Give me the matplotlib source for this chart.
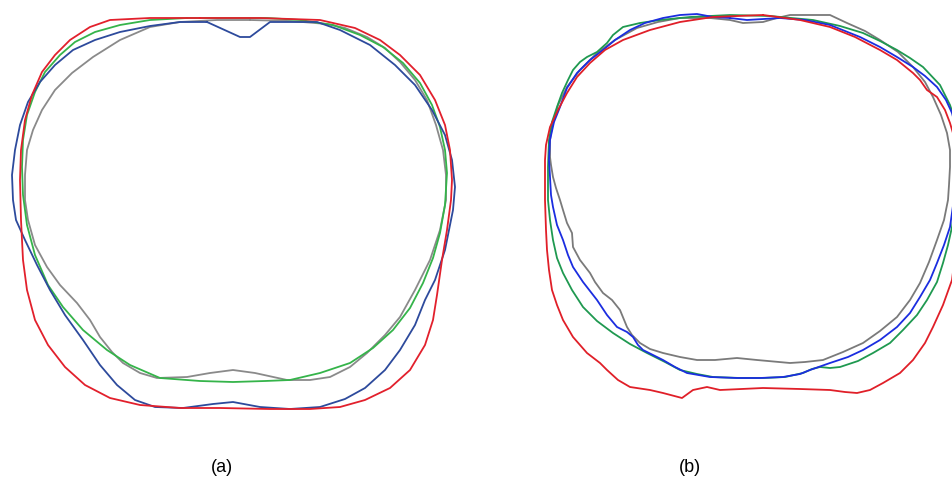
import matplotlib
matplotlib.use("Agg")
import matplotlib.pyplot as plt

# contour points, image pixel coords (x, y), y downwards
# ---- panel (a)
a_gray = [(250, 20), (217, 20), (180, 22), (150, 27), (120, 40), (93, 57), (72, 73),
          (55, 90), (42, 110), (33, 130), (27, 150), (25, 175), (25, 200), (28, 220),
          (35, 245), (47, 267), (60, 285), (77, 303), (90, 320), (100, 337), (112, 352),
          (123, 363), (140, 373), (157, 378), (187, 377), (210, 373), (233, 370),
          (255, 373), (287, 380), (310, 380), (330, 377), (350, 367), (367, 353),
          (385, 335), (400, 317), (415, 290), (430, 260), (440, 230), (446, 200),
          (446, 175), (443, 150), (436, 125), (427, 100), (415, 80), (400, 62),
          (385, 48), (367, 37), (345, 28), (327, 24), (290, 21), (250, 20)]
a_green = [(187, 18), (150, 20), (120, 25), (95, 32), (75, 42), (60, 55), (45, 72),
           (35, 92), (27, 115), (23, 140), (22, 167), (23, 195), (27, 225), (35, 255),
           (48, 285), (63, 307), (83, 330), (107, 350), (130, 365), (160, 378),
           (200, 381), (233, 382), (265, 381), (290, 380), (320, 373), (350, 363),
           (373, 348), (393, 330), (410, 308), (423, 283), (433, 258), (440, 233),
           (445, 205), (447, 173), (445, 150), (440, 127), (432, 105), (420, 83),
           (403, 63), (383, 47), (360, 35), (333, 25), (300, 20), (267, 18), (187, 18)]
a_blue = [(207, 22), (180, 22), (150, 26), (120, 32), (95, 40), (73, 50), (55, 65),
          (40, 82), (28, 102), (20, 125), (15, 150), (12, 175), (13, 200), (16, 220),
          (25, 240), (37, 265), (50, 290), (65, 315), (83, 340), (100, 365),
          (117, 385), (135, 400), (155, 407), (183, 408), (213, 404), (233, 402),
          (260, 407), (290, 409), (320, 407), (345, 399), (365, 388), (385, 370),
          (400, 350), (415, 325), (425, 300), (435, 280), (440, 265), (445, 250),
          (450, 225), (453, 210), (455, 187), (452, 160), (445, 135), (432, 110),
          (415, 85), (395, 65), (370, 45), (340, 30), (317, 22), (270, 22),
          (250, 37), (240, 37), (207, 22)]
a_red = [(200, 18), (150, 18), (110, 20), (90, 27), (70, 40), (55, 55), (42, 72),
         (32, 95), (25, 120), (21, 150), (20, 180), (21, 220), (23, 260), (27, 290),
         (35, 320), (48, 345), (65, 367), (85, 385), (110, 398), (140, 405),
         (180, 408), (220, 408), (270, 409), (310, 409), (340, 407), (365, 400),
         (390, 388), (410, 370), (425, 345), (433, 320), (437, 295), (442, 260),
         (447, 230), (451, 200), (452, 180), (450, 150), (445, 125), (435, 100),
         (420, 75), (400, 55), (380, 40), (355, 28), (320, 20), (260, 18), (200, 18)]
# ---- panel (b)
b_gray = [(680, 18), (710, 18), (730, 20), (743, 23), (763, 22), (777, 18), (790, 15),
          (830, 15), (847, 23), (865, 31), (880, 40), (898, 52), (913, 67), (925, 82),
          (933, 97), (941, 115), (947, 133), (950, 150), (950, 167), (949, 185),
          (948, 200), (944, 220), (937, 240), (929, 262), (920, 283), (910, 300),
          (897, 317), (880, 331), (863, 343), (843, 352), (823, 360), (805, 362),
          (790, 363), (757, 360), (737, 358), (715, 360), (697, 360), (680, 357),
          (663, 353), (650, 349), (640, 343), (632, 335), (627, 327), (620, 310),
          (612, 300), (603, 293), (595, 282), (590, 273), (580, 260), (573, 247),
          (572, 233), (567, 223), (563, 210), (560, 200), (556, 188), (553, 177),
          (551, 165), (550, 157), (550, 140), (552, 127), (558, 105), (567, 87),
          (580, 70), (597, 53), (615, 40), (637, 28), (658, 22), (680, 18)]
b_green = [(770, 16), (730, 15), (690, 17), (660, 20), (640, 23), (623, 27), (613, 35),
           (607, 43), (597, 52), (587, 57), (580, 62), (573, 70), (568, 80), (562, 93),
           (557, 107), (552, 122), (549, 140), (548, 167), (548, 200), (550, 220),
           (553, 240), (557, 258), (563, 273), (572, 290), (583, 307), (597, 321),
           (613, 333), (630, 344), (647, 353), (665, 362), (680, 370), (697, 374),
           (713, 377), (740, 378), (763, 378), (785, 377), (803, 373), (812, 369),
           (820, 367), (830, 368), (840, 367), (858, 361), (873, 353), (890, 343),
           (903, 330), (917, 315), (927, 300), (937, 282), (943, 263), (948, 245),
           (952, 227), (960, 170), (955, 120), (950, 105), (940, 85), (923, 67),
           (910, 58), (897, 50), (880, 41), (863, 33), (840, 26), (813, 20), (770, 16)]
b_blue = [(730, 18), (713, 17), (697, 14), (680, 15), (663, 18), (645, 23), (630, 30),
          (615, 40), (603, 50), (590, 60), (577, 73), (567, 88), (560, 107),
          (554, 122), (550, 140), (549, 160), (550, 177), (551, 195), (553, 207),
          (557, 225), (563, 240), (568, 255), (573, 267), (583, 282), (597, 300),
          (607, 315), (617, 327), (627, 332), (633, 337), (638, 345), (643, 350),
          (653, 355), (663, 360), (675, 367), (687, 373), (710, 377), (737, 378),
          (760, 378), (783, 377), (800, 374), (810, 370), (830, 363), (848, 357),
          (863, 350), (880, 340), (897, 327), (910, 313), (920, 297), (930, 280),
          (937, 263), (944, 245), (950, 227), (958, 170), (955, 125), (952, 113),
          (946, 100), (937, 87), (925, 76), (913, 67), (897, 57), (880, 47),
          (860, 37), (830, 25), (805, 20), (780, 18), (747, 20), (730, 18)]
b_red = [(763, 15), (713, 17), (680, 22), (650, 30), (623, 40), (605, 50), (590, 63),
         (577, 77), (567, 93), (558, 110), (550, 127), (546, 145), (545, 160),
         (545, 200), (546, 230), (547, 250), (549, 270), (552, 290), (557, 305),
         (563, 320), (573, 337), (587, 353), (600, 363), (607, 370), (618, 380),
         (630, 387), (650, 390), (663, 393), (682, 398), (693, 390), (707, 387),
         (720, 390), (763, 388), (800, 389), (830, 390), (845, 392), (857, 393),
         (870, 390), (883, 383), (900, 373), (913, 360), (925, 343), (933, 327),
         (943, 305), (952, 280), (962, 200), (955, 140), (950, 123), (945, 110),
         (937, 97), (927, 90), (920, 80), (913, 73), (897, 60), (880, 50),
         (855, 37), (830, 27), (800, 20), (763, 15)]

panel_labels = ["(a)", "(b)"]
label_x = [222, 690]

fig = plt.figure(figsize=(9.53, 4.86), dpi=100)
ax = fig.add_axes([0, 0, 1, 1])
ax.set_xlim(0, 953)
ax.set_ylim(486, 0)
ax.axis("off")

curves = [(a_gray, "#8a8a8a"), (a_green, "#35b44a"), (a_blue, "#2d4a9c"), (a_red, "#e2202c"),
          (b_gray, "#7a7a7a"), (b_green, "#1f9950"), (b_blue, "#1b2de0"), (b_red, "#e01f28")]
for pts, col in curves:
    xs, ys = zip(*pts)
    ax.plot(xs, ys, color=col, lw=1.3, solid_joinstyle="round")

for t, x in zip(panel_labels, label_x):
    ax.text(x, 467, t, ha="center", va="center", fontsize=13, family="Liberation Sans")

fig.savefig("out.png", dpi=100)
